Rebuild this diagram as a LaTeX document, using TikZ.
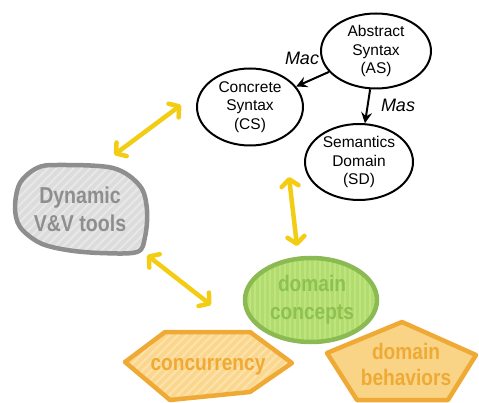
\documentclass[tikz,border=0pt]{standalone}
\usepackage{fontspec}
\setmainfont{Liberation Sans}
\newfontfamily\condfont{Liberation Sans}[FakeStretch=0.85]
\usetikzlibrary{shapes.geometric,arrows.meta,patterns.meta,calc}
\definecolor{yel}{HTML}{F2CD14}
\definecolor{grayline}{HTML}{8E8E8E}
\definecolor{grayfill}{HTML}{DCDCDC}
\definecolor{graystripe}{HTML}{E8E8E8}
\definecolor{greenline}{HTML}{8BBA52}
\definecolor{greenfill}{HTML}{B3DC6F}
\definecolor{greenstripe}{HTML}{BEE47F}
\definecolor{greentext}{HTML}{8DC151}
\definecolor{orline}{HTML}{EFAA36}
\definecolor{orfill}{HTML}{FAD68E}
\definecolor{orstripe}{HTML}{FDE3AA}
\definecolor{orsolid}{HTML}{F9D487}
\begin{document}
\begin{tikzpicture}[x=1pt,y=-1pt,
  bubble/.style={ellipse, draw=black, line width=2pt, inner sep=-2pt, align=center,
    font=\fontsize{15.5}{18.5}\selectfont},
  blackarrow/.style={line width=2pt, -{Stealth[length=11pt,width=11pt,inset=4pt]}},
  yarrow/.style={draw=yel, line width=4.5pt, line cap=round,
    {Straight Barb[length=7pt,width=17pt,round]}-{Straight Barb[length=7pt,width=17pt,round]}},
  lbl/.style={font=\fontsize{18}{20}\selectfont\itshape},
  bigtext/.style={align=center, font=\fontsize{22.5}{28}\selectfont\condfont\bfseries},
  thick shape/.style={line width=4.5pt, line join=round}
]
\useasboundingbox (0,0) rectangle (479,403);

% black ellipses
\node[bubble, minimum width=110, minimum height=75] (AS) at (376,51) {Abstract\\Syntax\\(AS)};
\node[bubble, minimum width=106, minimum height=77] (CS) at (250,107) {Concrete\\Syntax\\(CS)};
\node[bubble, minimum width=108, minimum height=76] (SD) at (359,162) {Semantics\\Domain\\(SD)};

\draw[blackarrow] (AS) -- (CS);
\draw[blackarrow] (AS) -- (SD);
\node[lbl] (Mac) at (302,58) {Mac};
\node[lbl] (Mas) at (398,105) {Mas};

% Dynamic V&V tools blob
\path[thick shape, preaction={fill=grayfill},
      pattern={Lines[angle=45,distance=6pt,line width=2pt]}, pattern color=graystripe,
      draw=grayline]
  plot[smooth cycle, tension=0.55] coordinates {(58,165) (113,168) (140,186) (147,210) (145,237)
    (137,252) (100,253) (67,250) (40,243) (20,227) (15,207) (20,183) (37,168)};
\node[bigtext, text=grayline, minimum width=132, minimum height=88, font=\fontsize{23}{28}\selectfont\condfont\bfseries] (Dyn) at (80,209) {Dynamic\\V\&V tools};

% domain concepts ellipse
\node[ellipse, minimum width=132, minimum height=84, thick shape,
      preaction={fill=greenfill},
      pattern={Lines[angle=90,distance=5pt,line width=2pt]}, pattern color=greenstripe,
      draw=greenline] (DCshape) at (311,300) {};
\node[bigtext, text=greentext] (DC) at (312,300) {domain\\concepts};

% concurrency hexagon
\path[thick shape, preaction={fill=orfill},
      pattern={Lines[angle=45,distance=6pt,line width=2pt]}, pattern color=orstripe,
      draw=orline]
  (125,362) -- (165,332) -- (250,332) -- (292,363) -- (250,392) -- (170,400) -- cycle;
\node[bigtext, text=orline] (Conc) at (208,367) {concurrency};

% domain behaviors pentagon
\path[thick shape, fill=orsolid, draw=orline]
  (327,353) -- (402,322) -- (476,355) -- (448,400) -- (357,400) -- cycle;
\node[bigtext, text=orline, font=\fontsize{22.5}{26}\selectfont\condfont\bfseries] (DB) at (406,364) {domain\\behaviors};

% yellow double arrows
\draw[yarrow] ([shift={(-15,-2)}]CS.west) -- ([shift={(-32,-10)}]Dyn.north east);
\draw[yarrow] ([shift={(1,2)}]Dyn.south east) -- ([shift={(-33,5)}]DCshape.west);
\draw[yarrow] ([shift={(-15,15)}]SD.west) -- ([shift={(-14,-11)}]DCshape.north);
\end{tikzpicture}
\end{document}
